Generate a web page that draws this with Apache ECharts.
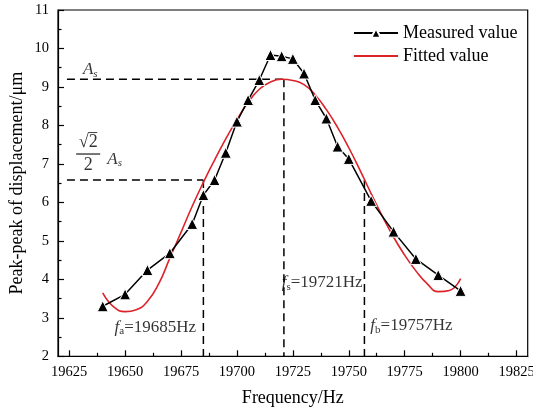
<!DOCTYPE html>
<html>
<head>
<meta charset="utf-8">
<script src="https://cdn.jsdelivr.net/npm/echarts@6/dist/echarts.min.js"></script>
<style>
html,body{margin:0;padding:0;background:#fff;}
#chart{width:533px;height:412px;}
</style>
</head>
<body>
<div id="chart"></div>
<script>
// ---- data ----
const measuredFreq = [19640,19650,19660,19670,19680,19685,19690,19695,19700,19705,19710,19715,19720,19725,19730,19735,19740,19745,19750,19760,19770,19780,19790,19800];
const measuredAmp  = [3.30,3.61,4.24,4.68,5.44,6.19,6.58,7.29,8.10,8.66,9.18,9.83,9.80,9.73,9.35,8.66,8.18,7.45,7.13,6.04,5.24,4.53,4.11,3.70];
const fittedFreq = [19640,19645,19650,19655,19660,19665,19670,19675,19680,19685,19690,19695,19700,19705,19710,19715,19720,19725,19730,19735,19740,19745,19750,19755,19760,19765,19770,19775,19780,19785,19790,19795,19800];
const fittedAmp  = [3.65,3.28,3.16,3.21,3.43,3.88,4.55,5.22,5.90,6.52,7.10,7.65,8.15,8.60,8.94,9.13,9.20,9.17,9.06,8.79,8.41,7.95,7.42,6.84,6.23,5.64,5.10,4.63,4.22,3.89,3.68,3.71,4.02];
const xTicks = [19625,19650,19675,19700,19725,19750,19775,19800,19825];
const xMinorTicks = [19637.5,19662.5,19687.5,19712.5,19737.5,19762.5,19787.5,19812.5];
const yTicks = [2,3,4,5,6,7,8,9,10,11];
const As = 9.2;          // resonance amplitude
const halfLevel = 6.58;  // sqrt(2)/2 * As level line
const fa = 19685, fs = 19721, fb = 19757;
const legendNames = ['Measured value','Fitted value'];
const xTitle = 'Frequency/Hz';
const yTitle = 'Peak-peak of displacement/\u03bcm';

const FONT = 'Liberation Serif, Times New Roman, serif';
const chart = echarts.init(document.getElementById('chart'), null, {renderer:'canvas'});

const dash = [8,5];
function guide(points){
  return {type:'line', data:points, symbol:'none', silent:true, z:1,
    lineStyle:{color:'#000', width:1.5, type:dash}, animation:false};
}
const sub = {fontSize:11, fontFamily:FONT, color:'#000', lineHeight:11, padding:[8,0,0,0]};
const ital = {fontSize:17, fontFamily:FONT, fontStyle:'italic', color:'#000', lineHeight:20};
const norm = {fontSize:17, fontFamily:FONT, color:'#000', lineHeight:20};

function textMark(x, y, fmt, rich){
  return {type:'scatter', data:[[x,y]], symbolSize:0, silent:true, z:5, animation:false,
    label:{show:true, position:'inside', formatter:fmt, rich:rich}};
}

const option = {
  animation:false,
  backgroundColor:'#fff',
  grid:{left:58, right:5.3, top:10, bottom:55.7, show:true, borderColor:'#000', borderWidth:1.2,
        backgroundColor:'transparent', containLabel:false, outerBoundsMode:'none'},
  legend:{
    data:[{name:legendNames[0]}, {name:legendNames[1], itemStyle:{opacity:0}}],
    orient:'vertical', left:353, top:24, padding:0, itemWidth:44, itemHeight:12, itemGap:5,
    textStyle:{fontSize:18, fontFamily:FONT, color:'#000'}
  },
  xAxis:[{
    type:'value', min:19620, max:19830, position:'bottom',
    name:xTitle, nameLocation:'middle', nameGap:33, nameMoveOverlap:false,
    nameTextStyle:{fontSize:18, fontFamily:FONT, color:'#000'},
    axisLine:{show:true, lineStyle:{color:'#000', width:1.2}},
    axisTick:{show:true, inside:true, length:6, customValues:xTicks, lineStyle:{color:'#000', width:1.2}},
    axisLabel:{show:true, customValues:xTicks, fontSize:14.5, fontFamily:FONT, color:'#000', margin:8,
      formatter:function(v){ return String(v); }},
    splitLine:{show:false}
  },{
    type:'value', min:19620, max:19830, position:'bottom', gridIndex:0,
    axisLine:{show:false},
    axisTick:{show:true, inside:true, length:3.5, customValues:xMinorTicks, lineStyle:{color:'#000', width:1.2}},
    axisLabel:{show:false},
    splitLine:{show:false}
  }],
  yAxis:{
    type:'value', min:2, max:11, interval:1,
    name:yTitle, nameLocation:'middle', nameGap:32, nameMoveOverlap:false,
    nameTextStyle:{fontSize:18, fontFamily:FONT, color:'#000'},
    axisLine:{show:true, lineStyle:{color:'#000', width:1.2}},
    axisTick:{show:true, inside:true, length:6, lineStyle:{color:'#000', width:1.2}},
    minorTick:{show:true, splitNumber:2, length:3.5, lineStyle:{color:'#000', width:1.2}},
    axisLabel:{fontSize:14.5, fontFamily:FONT, color:'#000', margin:9,
      formatter:function(v){ return yTicks.indexOf(v) >= 0 ? String(v) : ''; }},
    splitLine:{show:false}
  },
  series:[
    guide([[19624, As],[fs, As]]),
    guide([[fs, As],[fs, 2]]),
    guide([[19624, halfLevel],[fa, halfLevel]]),
    guide([[fa, halfLevel],[fa, 2]]),
    guide([[fb, halfLevel],[fb, 2]]),
    {
      name:legendNames[1], type:'line', smooth:0.5, showSymbol:false, symbol:'none', z:3,
      data:fittedFreq.map((f,i)=>[f, fittedAmp[i]]),
      itemStyle:{color:'#dc2329'}, lineStyle:{color:'#dc2329', width:1.6}
    },
    {
      name:legendNames[0], type:'line', symbol:'triangle', symbolSize:11, z:4,
      data:measuredFreq.map((f,i)=>[f, measuredAmp[i]]),
      itemStyle:{color:'#000', borderColor:'#fff', borderWidth:1},
      lineStyle:{color:'#000', width:1.5}
    },
    textMark(19634.4, 9.44, '{i|A}{s|s}', {i:ital, s:Object.assign({}, sub, {fontStyle:'italic'})}),
    textMark(19633.5, 7.27, '{sp|}{ov|}\n{n|\u221a2}\n{hr|}\n{n|2}', {
      n:{fontSize:18, fontFamily:FONT, color:'#000', lineHeight:19},
      sp:{width:9, height:1, lineHeight:1},
      ov:{width:9, height:0, borderColor:'#000', borderWidth:0.6, lineHeight:1},
      hr:{width:24, height:0, borderColor:'#000', borderWidth:0.8, lineHeight:4}
    }),
    textMark(19645.3, 7.12, '{i|A}{s|s}', {i:ital, s:Object.assign({}, sub, {fontStyle:'italic'})}),
    textMark(19663.5, 2.76, '{i|f}{s|a}{n|=' + fa + 'Hz}', {i:ital, s:sub, n:norm}),
    textMark(19738.1, 3.91, '{i|f}{s|s}{n|=' + fs + 'Hz}', {i:ital, s:sub, n:norm}),
    textMark(19778.0, 2.79, '{i|f}{s|b}{n|=' + fb + 'Hz}', {i:ital, s:sub, n:norm})
  ]
};
chart.setOption(option);
</script>
</body>
</html>
